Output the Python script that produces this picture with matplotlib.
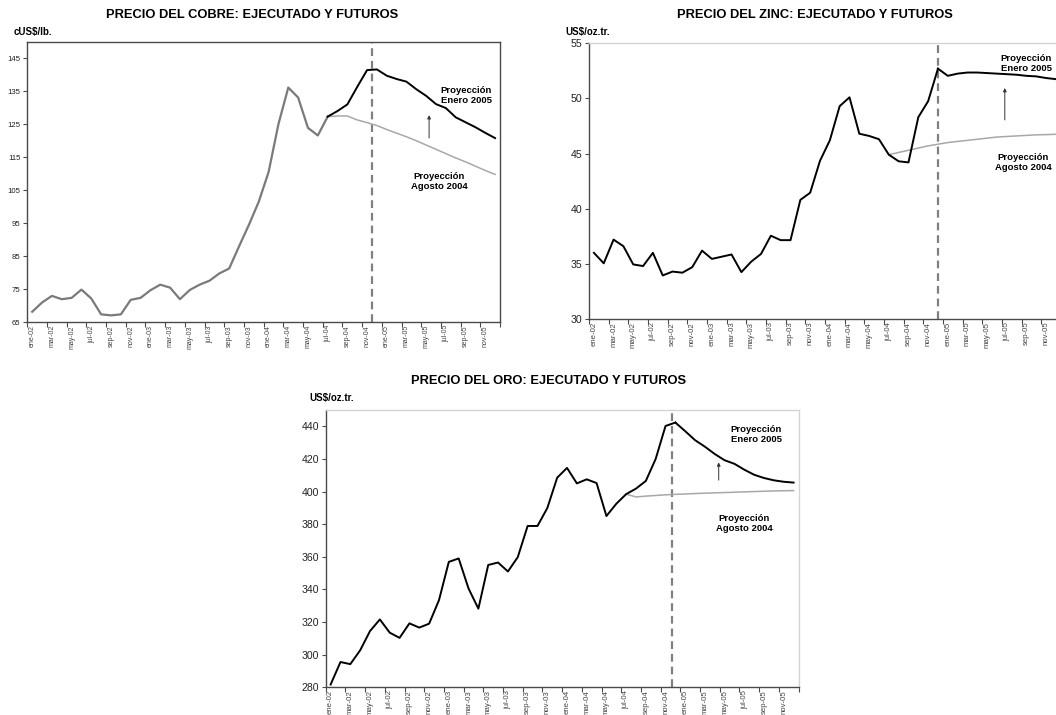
import numpy as np
import matplotlib
matplotlib.use("Agg")
import matplotlib.pyplot as plt

plt.rcParams['font.family'] = ['Liberation Sans', 'DejaVu Sans']

# ---------------- data ----------------
months = ["ene", "feb", "mar", "abr", "may", "jun", "jul", "ago", "sep", "oct", "nov", "dic"]
categories = [f"{m}-{y:02d}" for y in (2, 3, 4, 5) for m in months]   # ene-02 ... dic-05
tick_labels = categories[::2]

# Copper (cUS$/lb.)
cobre_hist = [68.2, 71.0, 73.0, 72.0, 72.4, 74.9, 72.2, 67.4, 67.1, 67.4, 71.8, 72.4,
              74.7, 76.4, 75.5, 72.0, 74.8, 76.4, 77.6, 79.8, 81.3, 88.0, 94.5, 101.5,
              110.5, 125.0, 136.1, 133.1, 123.9, 121.6, 127.3]            # ene-02 .. jul-04
cobre_ene05 = [127.3, 129.0, 131.0, 136.3, 141.4, 141.6, 139.7, 138.7, 137.9, 135.6,
               133.6, 131.1, 129.9, 127.1, 125.6, 124.1, 122.4, 120.8]   # jul-04 .. dic-05
cobre_ago04 = [127.3, 127.5, 127.5, 126.3, 125.5, 124.6, 123.4, 122.3, 121.2, 120.0,
               118.7, 117.4, 116.1, 114.8, 113.6, 112.3, 111.0, 109.8]   # jul-04 .. dic-05

# Zinc
zinc_hist = [36.0, 35.05, 37.2, 36.6, 34.95, 34.8, 36.0, 33.95, 34.3, 34.2, 34.7, 36.2,
             35.45, 35.65, 35.85, 34.25, 35.2, 35.9, 37.55, 37.15, 37.15, 40.8, 41.45, 44.35,
             46.2, 49.3, 50.1, 46.8, 46.6, 46.3, 44.9, 44.3, 44.2, 48.3, 49.75, 52.7]  # .. dic-04
zinc_ene05 = [52.7, 52.05, 52.25, 52.35, 52.35, 52.3, 52.25, 52.2, 52.15, 52.05, 52.0,
              51.85, 51.75]                                               # dic-04 .. dic-05
zinc_ago04 = [44.9, 45.1, 45.3, 45.5, 45.7, 45.85, 46.0, 46.1, 46.2, 46.3, 46.4, 46.5,
              46.55, 46.6, 46.65, 46.7, 46.72, 46.75]                    # jul-04 .. dic-05

# Gold
oro_hist = [281.7, 295.5, 294.2, 302.7, 314.5, 321.6, 313.5, 310.3, 319.2, 316.6, 319.0, 333.4,
            356.9, 359.0, 340.6, 328.2, 355.0, 356.5, 351.0, 359.8, 378.9, 378.9, 389.9, 408.5,
            414.5, 405.0, 407.5, 405.2, 385.0, 392.5, 398.4, 401.8, 406.5, 420.0, 440.2, 442.3]
oro_ene05 = [442.3, 437.0, 431.5, 427.5, 423.0, 419.2, 417.0, 413.4, 410.3, 408.3, 406.9,
             406.0, 405.5]
oro_ago04 = [398.4, 396.7, 397.2, 397.6, 398.0, 398.3, 398.5, 398.8, 399.0, 399.2, 399.4,
             399.6, 399.8, 400.0, 400.2, 400.4, 400.5, 400.6]

titles = ["PRECIO DEL COBRE: EJECUTADO Y FUTUROS",
          "PRECIO DEL ZINC: EJECUTADO Y FUTUROS",
          "PRECIO DEL ORO: EJECUTADO Y FUTUROS"]
units = ["cUS$/lb.", "US$/oz.tr.", "US$/oz.tr."]
txt_ene = "Proyección\nEnero 2005"
txt_ago = "Proyección\nAgosto 2004"

# ---------------- figure ----------------
W, H = 1056, 715
fig = plt.figure(figsize=(W / 100, H / 100), dpi=100)
fig.patch.set_facecolor("white")

def box(l, t, r, b):
    return [l / W, 1 - b / H, (r - l) / W, (b - t) / H]

def ftext(x, y, s, **kw):
    fig.text(x / W, 1 - y / H, s, **kw)

DARK = "#4a4a4a"
LIGHT = "#d4d4d4"
BLACK_LINE = "#000000"
HIST_GRAY = "#7a7a7a"
PROJ_GRAY = "#a8a8a8"

def setup(ax, ylim, yticks, yfs, xfs, frame):
    ax.set_xlim(-0.5, 47.5)
    ax.set_ylim(*ylim)
    ax.set_yticks(yticks)
    ax.tick_params(axis="y", direction="out", length=3, width=0.8, color=DARK,
                   labelsize=yfs, labelcolor="#222222", pad=2)
    ax.set_xticks(np.arange(-0.5, 48.0, 2))
    ax.set_xticklabels([])
    ax.set_xticks(np.arange(0, 48, 2), minor=True)
    ax.set_xticklabels(tick_labels, minor=True, rotation=90, fontsize=xfs, color="#444444")
    ax.tick_params(axis="x", which="major", direction="out", length=3.5, width=0.8, color=DARK)
    ax.tick_params(axis="x", which="minor", length=0, pad=2)
    for side, col in frame.items():
        if col is None:
            ax.spines[side].set_visible(False)
        else:
            ax.spines[side].set_color(col)
            ax.spines[side].set_linewidth(1.0)

def idx(start, vals):
    return np.arange(start, start + len(vals))

# ---- Copper ----
ax1 = fig.add_axes(box(27.3, 41.7, 500, 322.3))
setup(ax1, (65, 150), np.arange(65, 150, 10), 5.6, 5.0,
      {"left": DARK, "bottom": DARK, "top": DARK, "right": DARK})
ax1.plot(idx(30, cobre_ago04), cobre_ago04, color=PROJ_GRAY, lw=1.1, zorder=2)
ax1.plot(idx(0, cobre_hist), cobre_hist, color=HIST_GRAY, lw=1.6, zorder=3)
ax1.plot(idx(30, cobre_ene05), cobre_ene05, color=BLACK_LINE, lw=1.4, zorder=4)
ax1.axvline(34.47, color="#808080", lw=1.6, ls=(0, (3.5, 2.2)), zorder=1)
ax1.annotate("", xy=(40.3, 128.6), xytext=(40.3, 120.0),
             arrowprops=dict(arrowstyle="-|>", color="#333333", lw=0.7, mutation_scale=5))
ax1.text(44.1, 133.8, txt_ene, ha="center", va="center", fontsize=6.8,
         fontweight="bold", linespacing=1.15)
ax1.text(41.3, 107.6, txt_ago, ha="center", va="center", fontsize=6.8,
         fontweight="bold", linespacing=1.15)
ftext(251.7, 15, titles[0], ha="center", va="center", fontsize=9.3, fontweight="bold")
ftext(13.3, 32, units[0], ha="left", va="center", fontsize=7.0, fontweight="bold")

# ---- Zinc ----
ax2 = fig.add_axes(box(589, 43.3, 589 + 48 * 9.83, 319))
setup(ax2, (30, 55), np.arange(30, 56, 5), 7.6, 5.6,
      {"left": DARK, "bottom": DARK, "top": LIGHT, "right": None})
ax2.plot(idx(30, zinc_ago04), zinc_ago04, color=PROJ_GRAY, lw=1.1, zorder=2)
ax2.plot(idx(0, zinc_hist), zinc_hist, color=BLACK_LINE, lw=1.4, zorder=3)
ax2.plot(idx(35, zinc_ene05), zinc_ene05, color=BLACK_LINE, lw=1.4, zorder=3)
ax2.axvline(35.0, color="#808080", lw=1.6, ls=(0, (3.5, 2.2)), zorder=1)
ax2.annotate("", xy=(41.8, 51.2), xytext=(41.8, 47.8),
             arrowprops=dict(arrowstyle="-|>", color="#333333", lw=0.7, mutation_scale=5))
ax2.text(43.97, 53.18, txt_ene, ha="center", va="center", fontsize=6.8,
         fontweight="bold", linespacing=1.15)
ax2.text(43.7, 44.19, txt_ago, ha="center", va="center", fontsize=6.8,
         fontweight="bold", linespacing=1.15)
ftext(815.3, 15, titles[1], ha="center", va="center", fontsize=9.3, fontweight="bold")
ftext(565, 32.3, units[1], ha="left", va="center", fontsize=7.0, fontweight="bold")

# ---- Gold ----
ax3 = fig.add_axes(box(325.7, 410, 798.5, 687.3))
setup(ax3, (280, 450), np.arange(280, 441, 20), 7.6, 5.6,
      {"left": DARK, "bottom": DARK, "top": LIGHT, "right": LIGHT})
ax3.plot(idx(30, oro_ago04), oro_ago04, color=PROJ_GRAY, lw=1.1, zorder=2)
ax3.plot(idx(0, oro_hist), oro_hist, color=BLACK_LINE, lw=1.4, zorder=3)
ax3.plot(idx(35, oro_ene05), oro_ene05, color=BLACK_LINE, lw=1.4, zorder=3)
ax3.axvline(34.69, color="#808080", lw=1.6, ls=(0, (3.5, 2.2)), zorder=1)
ax3.annotate("", xy=(39.4, 419.6), xytext=(39.4, 405.3),
             arrowprops=dict(arrowstyle="-|>", color="#333333", lw=0.7, mutation_scale=5))
ax3.text(43.2, 435.2, txt_ene, ha="center", va="center", fontsize=6.8,
         fontweight="bold", linespacing=1.15)
ax3.text(42.0, 380.6, txt_ago, ha="center", va="center", fontsize=6.8,
         fontweight="bold", linespacing=1.15)
ftext(548.5, 381, titles[2], ha="center", va="center", fontsize=9.3, fontweight="bold")
ftext(309.3, 398.3, units[2], ha="left", va="center", fontsize=7.0, fontweight="bold")

fig.savefig("out.png", dpi=100, facecolor="white")
